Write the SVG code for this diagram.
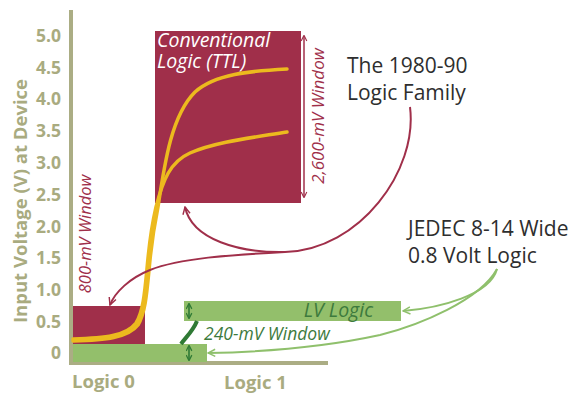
<svg xmlns="http://www.w3.org/2000/svg" width="584" height="393" viewBox="0 0 584 393">
  <defs>
    <style>
      .axis { stroke: #abad84; stroke-width: 4; fill: none; }
      .tick { font-family: "Open Sans", "Liberation Sans", sans-serif; font-weight: bold; font-size: 17.5px; fill: #a9ab80; }
      .label { font-family: "Open Sans", "Liberation Sans", sans-serif; font-weight: bold; font-size: 18.5px; fill: #a9ab80; }
      .maroon { fill: #a02f4a; }
      .green { fill: #93bf6b; }
      .yellow { stroke: #ecba1e; fill: none; stroke-linecap: round; }
      .callout { font-family: "Open Sans", "Liberation Sans", sans-serif; font-size: 21px; fill: #2e2e2e; }
      .win-m { font-family: "Open Sans", "Liberation Sans", sans-serif; font-style: italic; fill: #a02f4a; }
      .win-g { font-family: "Open Sans", "Liberation Sans", sans-serif; font-style: italic; fill: #3d7a3d; }
      .ttl { font-family: "Open Sans", "Liberation Sans", sans-serif; font-style: italic; font-size: 19.5px; fill: #ffffff; }
      .lnk-m { stroke: #a02f4a; stroke-width: 2; fill: none; }
      .lnk-g { stroke: #8fc06c; stroke-width: 2; fill: none; }
      .dbl-g { stroke: #2f7a35; stroke-width: 1.6; fill: none; }
    </style>
    <marker id="mArr" viewBox="0 0 10 10" refX="9" refY="5" markerWidth="9" markerHeight="9" markerUnits="userSpaceOnUse" orient="auto-start-reverse">
      <path d="M1,1 L9,5 L1,9" fill="none" stroke="#a02f4a" stroke-width="1.6"/>
    </marker>
    <marker id="gArr" viewBox="0 0 10 10" refX="9" refY="5" markerWidth="9" markerHeight="9" markerUnits="userSpaceOnUse" orient="auto-start-reverse">
      <path d="M1,1 L9,5 L1,9" fill="none" stroke="#8fc06c" stroke-width="1.6"/>
    </marker>
    <marker id="dArr" viewBox="0 0 10 10" refX="8" refY="5" markerWidth="7" markerHeight="7" markerUnits="userSpaceOnUse" orient="auto-start-reverse">
      <path d="M1,1 L9,5 L1,9" fill="none" stroke="#2f7a35" stroke-width="1.8"/>
    </marker>
    <marker id="wArr" viewBox="0 0 10 10" refX="8" refY="5" markerWidth="7" markerHeight="7" markerUnits="userSpaceOnUse" orient="auto-start-reverse">
      <path d="M1,1 L9,5 L1,9" fill="none" stroke="#a02f4a" stroke-width="1.6"/>
    </marker>
  </defs>

  <rect width="584" height="393" fill="#ffffff"/>

  <!-- axes -->
  <g id="axes">
    <path class="axis" d="M71,10 L71,363 L328,363"/>
    <text class="tick" x="61" y="42" text-anchor="end">5.0</text>
    <text class="tick" x="61" y="74" text-anchor="end">4.5</text>
    <text class="tick" x="61" y="105" text-anchor="end">4.0</text>
    <text class="tick" x="61" y="137" text-anchor="end">3.5</text>
    <text class="tick" x="61" y="169" text-anchor="end">3.0</text>
    <text class="tick" x="61" y="201" text-anchor="end">2.5</text>
    <text class="tick" x="61" y="233" text-anchor="end">2.0</text>
    <text class="tick" x="61" y="264" text-anchor="end">1.5</text>
    <text class="tick" x="61" y="296" text-anchor="end">1.0</text>
    <text class="tick" x="61" y="328" text-anchor="end">0.5</text>
    <text class="tick" x="61" y="359" text-anchor="end">0</text>
    <text class="label" transform="translate(27,201) rotate(-90)" text-anchor="middle">Input Voltage (V) at Device</text>
    <text class="label" x="72" y="388">Logic 0</text>
    <text class="label" x="224" y="389">Logic 1</text>
  </g>

  <!-- conventional TTL window -->
  <g id="ttl">
    <rect class="maroon" x="155" y="31" width="146" height="172"/>
    <text class="ttl" x="157" y="47">Conventional</text>
    <text class="ttl" x="157" y="68">Logic (TTL)</text>
    <line x1="304" y1="36" x2="304" y2="197" stroke="#a02f4a" stroke-width="1.5" marker-start="url(#wArr)" marker-end="url(#wArr)"/>
    <text class="win-m" font-size="17" transform="translate(324,116) rotate(-90)" text-anchor="middle">2,600-mV Window</text>
  </g>

  <!-- low-level TTL window -->
  <g id="ttl-low">
    <rect class="maroon" x="73" y="306" width="72" height="38"/>
    <text class="win-m" font-size="16.5" transform="translate(91,234) rotate(-90)" text-anchor="middle">800-mV Window</text>
  </g>

  <!-- LV logic windows -->
  <g id="lv">
    <rect class="green" x="73" y="344" width="134" height="18"/>
    <rect class="green" x="184" y="301" width="217" height="20"/>
    <text x="373" y="317" text-anchor="end" font-family="Open Sans, Liberation Sans, sans-serif" font-style="italic" font-size="19.5" fill="#3d7a3d">LV Logic</text>
    <line class="dbl-g" x1="189" y1="304" x2="189" y2="318" marker-start="url(#dArr)" marker-end="url(#dArr)"/>
    <line class="dbl-g" x1="189" y1="346" x2="189" y2="360" marker-start="url(#dArr)" marker-end="url(#dArr)"/>
    <path d="M197,321 C193,331 186,337 181,344" stroke="#2f7a35" stroke-width="4" fill="none"/>
    <text class="win-g" font-size="17.5" x="204" y="340">240-mV Window</text>
  </g>

  <!-- transfer curves -->
  <g id="curves">
    <path class="yellow" stroke-width="3.5" d="M73,341 C105,340 128,338 138,325 C146,312 147,290 150,260 C152,240 155,222 158,207 C165,160 172,115 195,92 C215,74 250,71 287,69"/>
    <path class="yellow" stroke-width="3.5" d="M73,339 C105,338 126,336 136,323 C144,310 145,288 148,258 C150,238 153,220 156,207 C163,180 170,162 190,153 C215,142 250,138 287,132"/>
  </g>

  <!-- callouts -->
  <g id="callout-1980">
    <text class="callout" x="347" y="73">The 1980-90</text>
    <text class="callout" x="347" y="100">Logic Family</text>
  </g>
  <g id="callout-jedec">
    <text class="callout" x="408" y="236">JEDEC 8-14 Wide</text>
    <text class="callout" x="408" y="263">0.8 Volt Logic</text>
  </g>

  <!-- connectors -->
  <g id="connectors">
    <path class="lnk-m" d="M410,107 C418,170 360,250 285,252 C240,253 192,240 185,207" marker-end="url(#mArr)"/>
    <path class="lnk-m" d="M285,252 C230,255 180,258 150,270 C130,278 115,292 110,305" marker-end="url(#mArr)"/>
    <path class="lnk-g" d="M497,269 C490,295 440,308 403,311" marker-end="url(#gArr)"/>
    <path class="lnk-g" d="M497,269 C480,300 420,325 380,335 C320,348 260,352 208,353" marker-end="url(#gArr)"/>
  </g>
</svg>
